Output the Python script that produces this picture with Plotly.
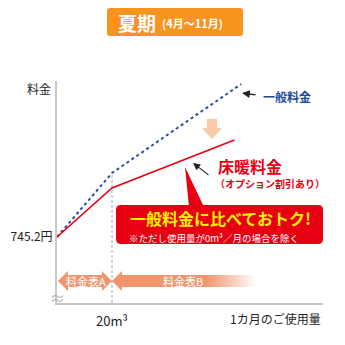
import plotly.graph_objects as go

# ---- data ----
general_x = [0, 20, 67]        # 一般料金 (m3)
general_y = [66, 130, 219]     # schematic cost level
floor_x = [0, 20, 64.5]        # 床暖料金
floor_y = [66, 115, 163]
base_label = "745.2円"
break_x_label = "20m³"

FONT = "Noto Sans CJK JP"
W = H = 345
L, R, T, B = 57, 323, 81, 303
XMAX = (R - L) / 2.75
YMAX = B - T

def px(x):
    return (x - L) / (R - L)

def py(y):
    return (B - y) / (B - T)

def path_px(points, close=True):
    s = "M " + " L ".join(f"{px(x):.5f},{py(y):.5f}" for x, y in points)
    return s + (" Z" if close else "")

def rrect(x0, y0, x1, y1, r):
    d = f"M {px(x0+r):.5f},{py(y0):.5f} L {px(x1-r):.5f},{py(y0):.5f} "
    d += f"Q {px(x1):.5f},{py(y0):.5f} {px(x1):.5f},{py(y0+r):.5f} "
    d += f"L {px(x1):.5f},{py(y1-r):.5f} Q {px(x1):.5f},{py(y1):.5f} {px(x1-r):.5f},{py(y1):.5f} "
    d += f"L {px(x0+r):.5f},{py(y1):.5f} Q {px(x0):.5f},{py(y1):.5f} {px(x0):.5f},{py(y1-r):.5f} "
    d += f"L {px(x0):.5f},{py(y0+r):.5f} Q {px(x0):.5f},{py(y0):.5f} {px(x0+r):.5f},{py(y0):.5f} Z"
    return d

fig = go.Figure()
fig.add_trace(go.Scatter(x=general_x, y=general_y, mode="lines",
                         line=dict(color="#2b4fa0", width=2, dash="dot"), hoverinfo="skip"))
fig.add_trace(go.Scatter(x=floor_x, y=floor_y, mode="lines",
                         line=dict(color="#e60012", width=1.6), hoverinfo="skip"))

shapes = []
annotations = []
PAP = dict(xref="paper", yref="paper")

def txt(x, y, text, size, color, anchor="center"):
    annotations.append(dict(x=px(x), y=py(y), text=text, showarrow=False, xanchor=anchor,
                            yanchor="middle", font=dict(family=FONT, size=size, color=color), **PAP))

# dashed vertical at break point
shapes.append(dict(type="line", xref="x", yref="y", x0=floor_x[1], x1=floor_x[1],
                   y0=0, y1=general_y[1], line=dict(color="#aaaaaa", width=1, dash="3px,2px"), layer="below"))

# title badge
shapes.append(dict(type="path", path=rrect(107, 8, 243, 36, 3), fillcolor="#f7941d", line=dict(width=0), **PAP))
txt(116, 22, "<b>夏期</b>", 19, "white", "left")
txt(160, 23, "<b>(4月～11月)</b>", 11, "white", "left")

# axis titles
txt(53, 88, "料金", 12, "#222", "right")
txt(323, 318, "1カ月のご使用量", 12, "#222", "right")

# band arrows
AC = "#f0956e"
shapes.append(dict(type="path", path=path_px([(58, 281), (68, 271), (68, 275), (102, 275), (102, 271),
                                               (112, 281), (102, 291), (102, 287), (68, 287), (68, 291)]),
                   fillcolor=AC, line=dict(width=0), **PAP))
shapes.append(dict(type="path", path=path_px([(112, 281), (122, 271), (122, 275), (206, 275), (206, 287),
                                               (122, 287), (122, 291)]),
                   fillcolor=AC, line=dict(width=0), **PAP))
n = 25
for i in range(n):
    x0 = 206 + i * 2
    shapes.append(dict(type="rect", x0=px(x0), x1=px(x0 + 2.05), y0=py(275), y1=py(287),
                       fillcolor=AC, opacity=max(0.0, 1 - (i + 0.5) / n), line=dict(width=0), **PAP))
txt(86, 281, "料金表A", 11, "white")
txt(183, 281, "料金表B", 11, "white")
# axis break mark
txt(57, 297, "≈", 15, "#b0b0b0")

# peach down arrow
shapes.append(dict(type="path", path=path_px([(207, 119), (217, 119), (217, 128), (222, 128), (212, 139),
                                               (202, 128), (207, 128)]),
                   fillcolor="#f9caa8", line=dict(width=0), **PAP))

# general label
txt(261, 96, "<b>一般料金</b>", 12, "#1e4b98", "left")
annotations.append(dict(x=px(242), y=py(93), ax=15, ay=2,
                        text="", showarrow=True, arrowhead=2, arrowsize=1.2, arrowwidth=1.3,
                        arrowcolor="#222", **PAP))

# floor heating label
txt(216, 166, "<b>床暖料金</b>", 16, "#e60012", "left")
txt(213, 183, "<b>（オプション割引あり）</b>", 10, "#e60012", "left")
annotations.append(dict(x=px(193), y=py(163), ax=17, ay=13,
                        text="", showarrow=True, arrowhead=2, arrowsize=1.2, arrowwidth=1.2,
                        arrowcolor="#222", **PAP))

# callout
shapes.append(dict(type="path", path=path_px([(185, 167), (189, 207), (204, 207)]),
                   fillcolor="#e60012", line=dict(width=0), **PAP))
shapes.append(dict(type="path", path=rrect(116, 205, 323, 244, 5), fillcolor="#e60012",
                   line=dict(width=0), **PAP))
txt(220, 218, "<b>一般料金に比べておトク!</b>", 16, "#fff000")
txt(127, 237.5, "※ただし使用量が0m³／月の場合を除く", 9.5, "white", "left")

fig.update_layout(
    width=W, height=H,
    margin=dict(l=L, r=W - R, t=T, b=H - B, pad=0),
    paper_bgcolor="white", plot_bgcolor="white",
    showlegend=False,
    shapes=shapes, annotations=annotations,
    xaxis=dict(range=[0, XMAX], showgrid=False, zeroline=False, showline=True,
               linecolor="#c8c8c8", linewidth=2, tickvals=[general_x[1]], ticktext=[break_x_label],
               ticks="", ticklabelstandoff=5,
               tickfont=dict(family=FONT, size=13, color="#222"), fixedrange=True),
    yaxis=dict(range=[0, YMAX], showgrid=False, zeroline=False, showline=True,
               linecolor="#c8c8c8", linewidth=2, tickvals=[general_y[0]], ticktext=[base_label],
               ticks="", tickfont=dict(family=FONT, size=12, color="#222"), fixedrange=True),
)
fig.write_html("out.html")
